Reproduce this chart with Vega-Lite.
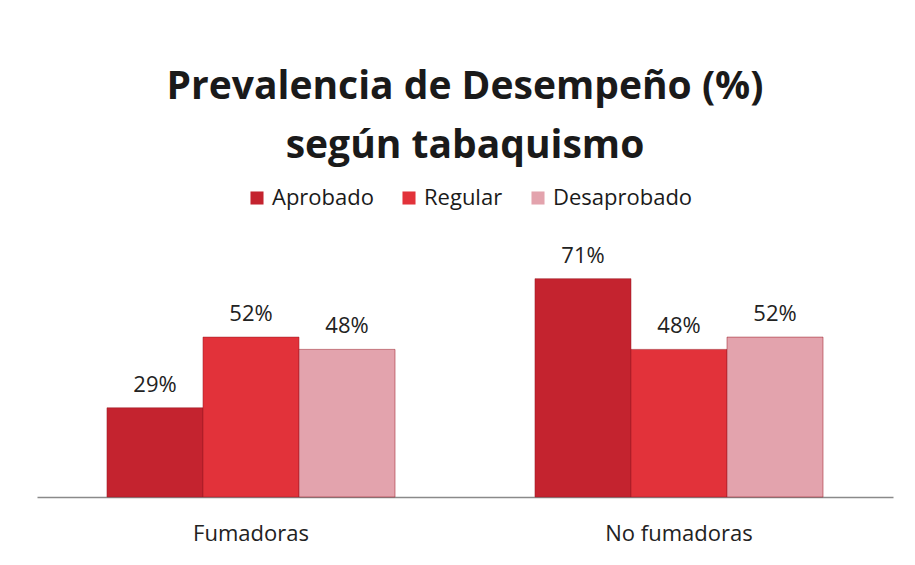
{
  "$schema": "https://vega.github.io/schema/vega-lite/v6.json",
  "width": 856,
  "height": 246,
  "autosize": {"type": "none"},
  "padding": {"left": 37, "top": 251, "right": 22, "bottom": 68},
  "background": "white",
  "config": {"view": {"stroke": null}},
  "title": {
    "text": ["Prevalencia de Desempeño (%)", "según tabaquismo"],
    "fontSize": 39,
    "font": "Open Sans",
    "fontWeight": "bold",
    "color": "#1a1a1a",
    "anchor": "middle",
    "lineHeight": 59,
    "offset": 21
  },
  "data": {
    "values": [
      {"grupo": "Fumadoras", "desempeno": "Aprobado", "pct": 0.29},
      {"grupo": "Fumadoras", "desempeno": "Regular", "pct": 0.52},
      {"grupo": "Fumadoras", "desempeno": "Desaprobado", "pct": 0.48},
      {"grupo": "No fumadoras", "desempeno": "Aprobado", "pct": 0.71},
      {"grupo": "No fumadoras", "desempeno": "Regular", "pct": 0.48},
      {"grupo": "No fumadoras", "desempeno": "Desaprobado", "pct": 0.52}
    ]
  },
  "encoding": {
    "x": {
      "field": "grupo",
      "type": "nominal",
      "sort": ["Fumadoras", "No fumadoras"],
      "scale": {"paddingInner": 0.327, "paddingOuter": 0.1635},
      "axis": {
        "title": null,
        "labelAngle": 0,
        "ticks": false,
        "domainColor": "#8a8a8a",
        "domainWidth": 1.5,
        "labelFontSize": 22,
        "labelPadding": 26,
        "labelFont": "Open Sans",
        "labelColor": "#222222"
      }
    },
    "xOffset": {"field": "desempeno", "type": "nominal", "sort": ["Aprobado", "Regular", "Desaprobado"]},
    "y": {"field": "pct", "type": "quantitative", "scale": {"domain": [0, 0.8]}, "axis": null}
  },
  "layer": [
    {
      "mark": {"type": "bar", "stroke": "#9a1a24", "strokeWidth": 1, "strokeOpacity": 0.5},
      "encoding": {
        "color": {
          "field": "desempeno",
          "type": "nominal",
          "sort": ["Aprobado", "Regular", "Desaprobado"],
          "scale": {"domain": ["Aprobado", "Regular", "Desaprobado"], "range": ["#c4232f", "#e2323a", "#e3a3ad"]},
          "legend": {
            "title": null,
            "orient": "none",
            "legendX": 209,
            "legendY": -64,
            "direction": "horizontal",
            "symbolType": "square",
            "symbolSize": 170,
            "symbolStrokeWidth": 0,
            "labelFontSize": 22,
            "labelFont": "Open Sans",
            "labelColor": "#1a1a1a",
            "columnPadding": 24
          }
        }
      }
    },
    {
      "mark": {"type": "text", "baseline": "bottom", "dy": -11, "fontSize": 22, "font": "Open Sans", "color": "#222222"},
      "encoding": {
        "text": {"field": "pct", "type": "quantitative", "format": ".0%"}
      }
    }
  ]
}
